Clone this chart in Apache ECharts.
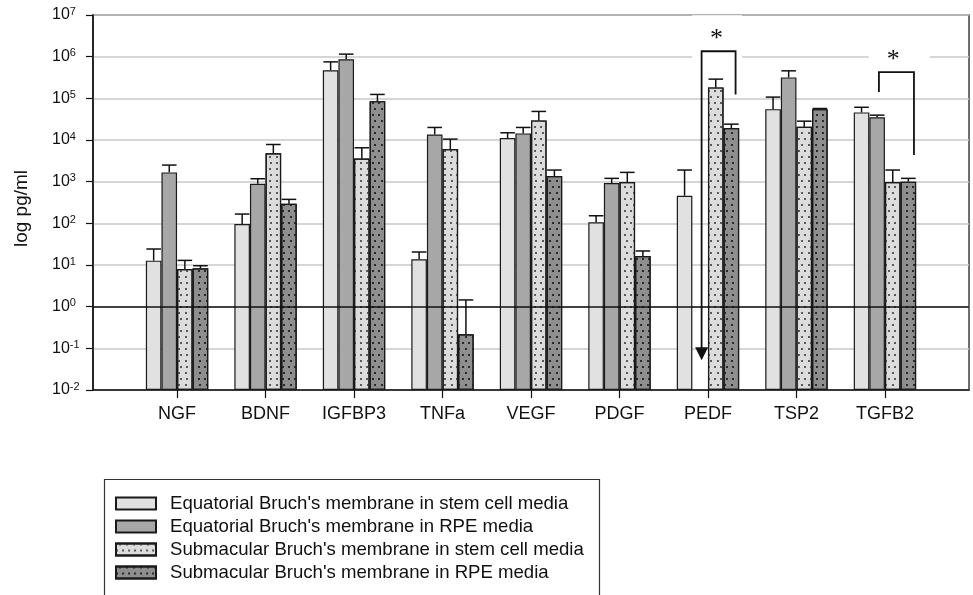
<!DOCTYPE html>
<html>
<head>
<meta charset="utf-8">
<script src="https://cdn.jsdelivr.net/npm/echarts@6/dist/echarts.min.js"></script>
<style>
  html, body { margin: 0; padding: 0; background: #fff; }
  #chart { width: 973px; height: 595px; }
</style>
</head>
<body>
<div id="chart"></div>
<script>
// Growth factor concentrations (pg/ml), log scale
const categories = ['NGF', 'BDNF', 'IGFBP3', 'TNFa', 'VEGF', 'PDGF', 'PEDF', 'TSP2', 'TGFB2'];
const seriesNames = [
  "Equatorial Bruch's membrane in stem cell media",
  "Equatorial Bruch's membrane in RPE media",
  "Submacular Bruch's membrane in stem cell media",
  "Submacular Bruch's membrane in RPE media"
];
// mean values
const eqStem   = [12.7, 96, 474000, 13.7, 11100, 106, 460, 55000, 46000];
const eqRpe    = [1670, 890, 870000, 13600, 14400, 925, null, 318000, 35000];
const subStem  = [8.0, 4800, 3600, 6050, 29500, 980, 183000, 20700, 980];
const subRpe   = [8.3, 295, 85500, 0.218, 1360, 16.4, 19300, 55000, 1000];
// upper end of the error bars
const eqStemErr  = [24.2, 167, 750000, 20.5, 14900, 152, 1900, 107000, 61000];
const eqRpeErr   = [2500, 1175, 1150000, 20000, 20000, 1200, null, 457000, 39500];
const subStemErr = [12.9, 7800, 6500, 10500, 48500, 1670, 289000, 28300, 1900];
const subRpeErr  = [9.6, 376, 124000, 1.45, 1900, 21.7, 24000, 57000, 1200];

// significance annotations (x in category units, y in pg/ml)
const pedfBracket  = [[6.312, 1.23e5], [6.312, 1.35e6], [5.928, 1.35e6], [5.928, 0.06]];
const pedfArrowTip = [5.928, 0.052];
const tgfbBracket  = [[7.932, 1.41e5], [7.932, 4.25e5], [8.328, 4.25e5], [8.328, 4350]];
// asterisk label anchors with their white backing boxes (padding t, r, b, l)
const stars = [
  { pos: [6.103, 3.28e6], pad: [22, 19, 0, 18] },
  { pos: [8.162, 1.03e6], pad: [3, 30, 3, 18] }
];

const FONT = '"Liberation Sans", Arial, sans-serif';
const BAR_W = 15.6;

const dots = c => ({ symbol: 'rect', symbolSize: 1, color: c,
  dashArrayX: [[1.3, 3.7], [0, 2.5, 1.3, 1.2]], dashArrayY: [1.3, 3.2] });
const fills = [
  { color: '#e1e1e1' },
  { color: '#a7a7a7' },
  { color: '#dcdcdc', decal: dots('#5a5a5a') },
  { color: '#8e8e8e', decal: dots('#2a2a2a') }
];
const means = [eqStem, eqRpe, subStem, subRpe];
const errs = [eqStemErr, eqRpeErr, subStemErr, subRpeErr];

const series = [];
means.forEach((vals, i) => {
  series.push({
    name: seriesNames[i],
    type: 'bar',
    barWidth: BAR_W,
    barGap: '0%',
    data: vals.map((v, k) => [k, v === null ? '-' : v]),
    itemStyle: Object.assign({ borderColor: '#1a1a1a', borderWidth: 1.2 }, fills[i]),
    z: 2,
    markLine: i === 0 ? {
      symbol: 'none', silent: true, label: { show: false },
      lineStyle: { color: '#111', width: 1.5, type: 'solid' },
      data: [{ yAxis: 1 }]
    } : undefined
  });
});

// error bars (upper whisker only)
means.forEach((vals, i) => {
  const off = (i - 1.5) * BAR_W;
  series.push({
    type: 'custom',
    silent: true,
    z: 4,
    data: vals.map((v, k) => [k, v === null ? '-' : v, errs[i][k] === null ? '-' : errs[i][k]]),
    encode: { x: 0, y: [1, 2] },
    renderItem(params, api) {
      const k = api.value(0), v = api.value(1), e = api.value(2);
      if (isNaN(v) || isNaN(e)) return null;
      const p0 = api.coord([k, v]);
      const p1 = api.coord([k, e]);
      const x = p0[0] + off;
      const st = { stroke: '#111', lineWidth: 1.5 };
      return {
        type: 'group',
        children: [
          { type: 'line', shape: { x1: x, y1: p0[1], x2: x, y2: p1[1] }, style: st },
          { type: 'line', shape: { x1: x - 7.3, y1: p1[1], x2: x + 7.3, y2: p1[1] }, style: st }
        ]
      };
    }
  });
});

// asterisks (on white boxes), then brackets and arrow on top
series.push({
  type: 'custom',
  silent: true,
  z: 6,
  data: [0],
  renderItem(params, api) {
    const pts = a => a.map(p => api.coord(p));
    const st = { stroke: '#111', lineWidth: 1.8, fill: null };
    const tip = api.coord(pedfArrowTip);
    const children = [];
    stars.forEach(s => {
      const c = api.coord(s.pos);
      children.push({
        type: 'text', x: c[0], y: c[1] + 4,
        style: { text: '*', font: '26px "Liberation Serif", serif', fill: '#111',
          align: 'center', verticalAlign: 'middle', backgroundColor: '#fff', padding: s.pad }
      });
    });
    children.push(
      { type: 'polyline', shape: { points: pts(pedfBracket) }, style: st },
      { type: 'polyline', shape: { points: pts(tgfbBracket) }, style: st },
      { type: 'polygon', shape: { points: [[tip[0] - 6.5, tip[1] - 13], [tip[0] + 6.5, tip[1] - 13], [tip[0], tip[1]]] },
        style: { fill: '#111' } }
    );
    return { type: 'group', children };
  }
});

const chart = echarts.init(document.getElementById('chart'), null, { renderer: 'canvas' });
chart.setOption({
  animation: false,
  backgroundColor: '#fff',
  textStyle: { fontFamily: FONT },
  grid: { left: 93, right: 4, top: 15, height: 375, show: true, borderColor: '#4a4a4a', borderWidth: 1.6 },
  legend: {
    orient: 'vertical', left: 115, top: 494, padding: 0,
    icon: 'rect',
    itemWidth: 40, itemHeight: 12, itemGap: 4,
    data: seriesNames,
    textStyle: { fontSize: 18.6, lineHeight: 17, color: '#111', padding: [0, 0, 0, 9] }
  },
  graphic: [{
    type: 'rect', left: 102, top: 477,
    shape: { width: 495, height: 140 },
    style: { fill: null, stroke: '#333', lineWidth: 1.2 }, z: -1
  }],
  xAxis: {
    type: 'value', min: -0.95, max: 8.95,
    splitLine: { show: false },
    axisLine: { show: true, onZero: false, lineStyle: { color: '#111', width: 1.5 } },
    axisTick: { show: true, length: 8, lineStyle: { color: '#111', width: 1.2 }, customValues: [0, 1, 2, 3, 4, 5, 6, 7, 8] },
    axisLabel: { customValues: [0, 1, 2, 3, 4, 5, 6, 7, 8], formatter: v => categories[Math.round(v)] || '',
      fontSize: 18, color: '#111', margin: 15 }
  },
  yAxis: {
    type: 'log', logBase: 10, min: 0.01, max: 1e7, startValue: 0.01,
    name: 'log pg/ml', nameLocation: 'middle', nameGap: 62, nameRotate: 90,
    nameTextStyle: { fontSize: 19, color: '#111', padding: [0, 12, 0, 0] },
    axisLine: { show: true, onZero: false, lineStyle: { color: '#111', width: 1.5 } },
    axisTick: { show: true, length: 7, lineStyle: { color: '#111', width: 1.2 } },
    splitLine: { show: true, lineStyle: { color: '#c9c9c9', width: 1.5 } },
    axisLabel: {
      align: 'left', margin: 41, color: '#111',
      formatter: v => '{b|10}{e|' + Math.round(Math.log10(v)) + '}',
      rich: {
        b: { fontSize: 16, fontFamily: FONT, color: '#111', lineHeight: 18 },
        e: { fontSize: 11, fontFamily: FONT, color: '#111', verticalAlign: 'top', lineHeight: 11 }
      }
    }
  },
  series
});
</script>
</body>
</html>
